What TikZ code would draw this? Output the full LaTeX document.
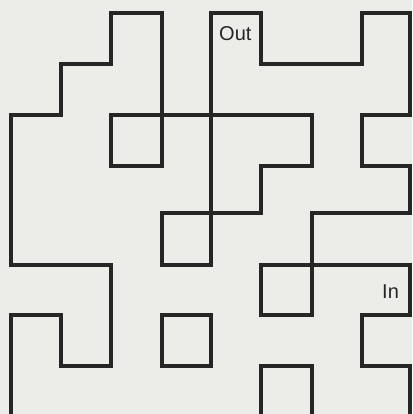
\documentclass[tikz,border=0pt]{standalone}
\usepackage{fontspec}
\setmainfont{Liberation Sans}
\definecolor{paper}{HTML}{ECECE9}
\definecolor{ink}{HTML}{262626}
\tikzset{
  wall/.style={draw=ink, line width=3.2pt, line join=miter, line cap=rect},
  lab/.style={font=\fontsize{20}{20}\selectfont, text=ink, inner sep=0pt, anchor=base west}
}
\begin{document}
\begin{tikzpicture}[x=1pt,y=-1pt]
\fill[paper] (0,0) rectangle (412,414);
\useasboundingbox (0,0) rectangle (412,414);
\draw[wall] (11,416) -- (11,315) -- (61,315) -- (61,366) -- (111,366) -- (111,265) -- (11,265) -- (11,115) -- (61,115) -- (61,64) -- (111,64) -- (111,13) -- (162,13) -- (162,166) -- (111,166) -- (111,115) -- (312,115) -- (312,166) -- (261,166) -- (261,213) -- (162,213) -- (162,265) -- (211,265) -- (211,13) -- (261,13) -- (261,64) -- (362,64) -- (362,13) -- (410,13) -- (410,115) -- (362,115) -- (362,166) -- (410,166) -- (410,213) -- (312,213) -- (312,315) -- (261,315) -- (261,265) -- (410,265) -- (410,315) -- (362,315) -- (362,366) -- (410,366) -- (410,416);
\draw[wall] (162,315) rectangle (211,366);
\draw[wall] (261,416) -- (261,366) -- (312,366) -- (312,416);
\node[lab] (out) at (219,41) {Out};
\node[lab] (in) at (382,298) {In};
\end{tikzpicture}
\end{document}
